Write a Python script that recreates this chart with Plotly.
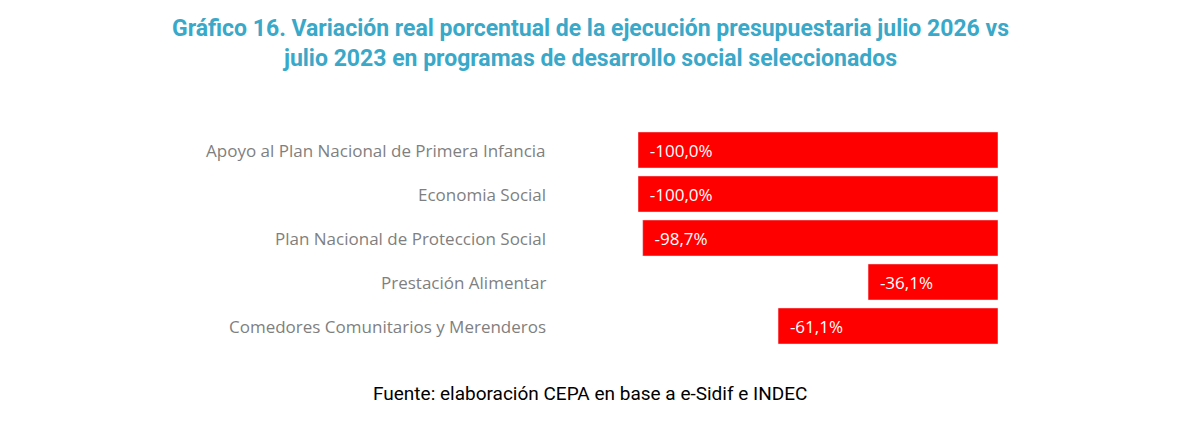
import plotly.graph_objects as go

categories = ["Apoyo al Plan Nacional de Primera Infancia", "Economia Social",
              "Plan Nacional de Proteccion Social", "Prestación Alimentar",
              "Comedores Comunitarios y Merenderos"]
values = [-100.0, -100.0, -98.7, -36.1, -61.1]
labels = ["-100,0%", "-100,0%", "-98,7%", "-36,1%", "-61,1%"]

fig = go.Figure(go.Bar(
    x=values, y=categories, orientation="h",
    marker_color="#FF0000", text=labels, texttemplate="&nbsp;&nbsp;%{text}",
    textposition="inside", insidetextanchor="end",
    textfont=dict(color="white", size=17, family="Open Sans"),
    cliponaxis=False,
))

# category labels drawn to the left of the plot
for c in categories:
    fig.add_annotation(x=-0.25, xref="paper", y=c, yref="y", text=c,
                       xanchor="right", showarrow=False,
                       font=dict(color="#7F7F7F", size=17, family="Open Sans"))

fig.add_annotation(x=-0.133, y=1.386, xref="paper", yref="paper",
                   text="<b>Gráfico 16. Variación real porcentual de la ejecución presupuestaria julio 2026 vs<br>julio 2023 en programas de desarrollo social seleccionados</b>",
                   showarrow=False, xanchor="center", yanchor="middle",
                   font=dict(color="#3AA8C8", size=23, family="Roboto"))

fig.add_annotation(x=-0.133, y=-0.209, xref="paper", yref="paper",
                   text="Fuente: elaboración CEPA en base a e-Sidif e INDEC",
                   showarrow=False, xanchor="center", yanchor="middle",
                   font=dict(color="black", size=19, family="Roboto"))

fig.update_layout(
    width=1180, height=425,
    margin=dict(l=630, r=190, t=120, b=85),
    plot_bgcolor="white", paper_bgcolor="white",
    xaxis=dict(range=[-100, 0], visible=False),
    yaxis=dict(autorange="reversed", showticklabels=False, showgrid=False),
    bargap=0.18, showlegend=False,
)

fig.write_html("out.html")
